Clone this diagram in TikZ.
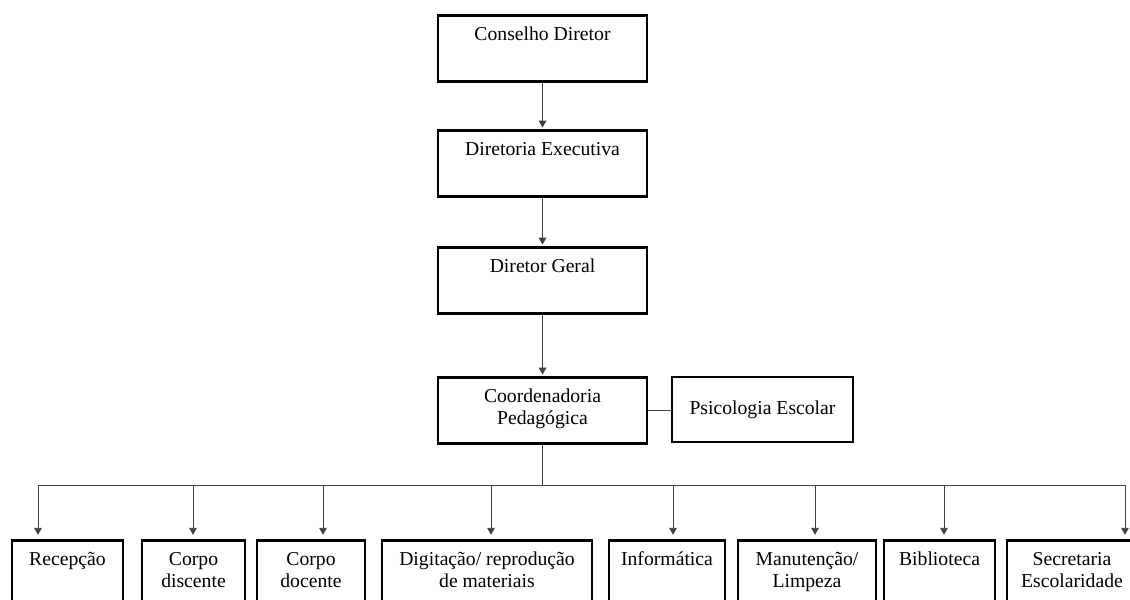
\documentclass[tikz,border=0pt]{standalone}
\usepackage{fontspec}
\setmainfont{Liberation Serif}
\usetikzlibrary{arrows.meta}

\begin{document}
\begin{tikzpicture}[
        x=0.025cm, y=-0.025cm,
        font=\fontsize{14pt}{15.6pt}\selectfont,
        unitBox/.style={draw, line width=2pt, align=center, anchor=north,
            inner xsep=2pt, inner ysep=0pt, text height=17.8pt, text depth=29.1pt},
        unitPair/.style={unitBox, text height=33.4pt, text depth=13.5pt},
        lowBox/.style={unitBox, text depth=60pt},
        lowPair/.style={unitBox, text height=33.4pt, text depth=44.4pt},
        sideBox/.style={draw, line width=2pt, align=center, minimum height=1.625cm},
        link/.style={draw=black!75, line width=0.7pt},
        arrowLine/.style={link, -{Triangle[length=5pt, width=5.5pt]}, shorten >=1pt},
    ]
    \useasboundingbox (0,0) rectangle (1130,599);
    \clip (0,0) rectangle (1130,599);

    \begin{scope}
        \node[unitBox, minimum width=5.225cm] (conselho) at (542.5,14) {Conselho Diretor};
        \node[unitBox, minimum width=5.225cm] (diretoria) at (542.5,129) {Diretoria Executiva};
        \node[unitBox, minimum width=5.225cm] (geral) at (542.5,246) {Diretor Geral};
        \node[unitPair, minimum width=5.225cm] (coord) at (542.5,376) {Coordenadoria\\Pedagógica};
        \node[sideBox, minimum width=4.525cm] (psico) at (762.5,409.5) {Psicologia Escolar};
    \end{scope}

    \begin{scope}
        \node[lowBox, minimum width=2.775cm] (recep) at (67.5,539) {Recepção};
        \node[lowPair, minimum width=2.575cm] (discente) at (193.5,539) {Corpo\\discente};
        \node[lowPair, minimum width=2.7cm] (docente) at (311,539) {Corpo\\docente};
        \node[lowPair, minimum width=5.25cm] (digit) at (487,539) {Digitação/ reprodução\\de materiais};
        \node[lowBox, minimum width=2.9cm] (info) at (667,539) {Informática};
        \node[lowPair, minimum width=3.45cm] (manut) at (807,539) {Manutenção/\\Limpeza};
        \node[lowBox, minimum width=2.775cm] (biblio) at (939.5,539) {Biblioteca};
        \node[lowPair, minimum width=3.25cm] (secret) at (1072,539) {Secretaria\\Escolaridade};
    \end{scope}

    % ligacoes verticais
    \draw[arrowLine] (conselho) -- (diretoria);
    \draw[arrowLine] (diretoria) -- (geral);
    \draw[arrowLine] (geral) -- (coord);
    \draw[link] (coord.east) -- (coord.east -| psico.west);

    % barramento
    \coordinate (busRecep) at (38,485);
    \coordinate (busDiscente) at (193,485);
    \coordinate (busDocente) at (323,485);
    \coordinate (busDigit) at (491,485);
    \coordinate (busInfo) at (673,485);
    \coordinate (busManut) at (815,485);
    \coordinate (busBiblio) at (944,485);
    \coordinate (busSecret) at (1125,485);
    \draw[link] (coord.south) -- (coord.south |- busRecep);
    \draw[link] (busRecep) -- (busSecret);

    \draw[arrowLine, shorten >=3pt] (busRecep) -- (busRecep |- recep.north);
    \draw[arrowLine, shorten >=3pt] (busDiscente) -- (busDiscente |- discente.north);
    \draw[arrowLine, shorten >=3pt] (busDocente) -- (busDocente |- docente.north);
    \draw[arrowLine, shorten >=3pt] (busDigit) -- (busDigit |- digit.north);
    \draw[arrowLine, shorten >=3pt] (busInfo) -- (busInfo |- info.north);
    \draw[arrowLine, shorten >=3pt] (busManut) -- (busManut |- manut.north);
    \draw[arrowLine, shorten >=3pt] (busBiblio) -- (busBiblio |- biblio.north);
    \draw[arrowLine, shorten >=3pt] (busSecret) -- (busSecret |- secret.north);
\end{tikzpicture}
\end{document}
